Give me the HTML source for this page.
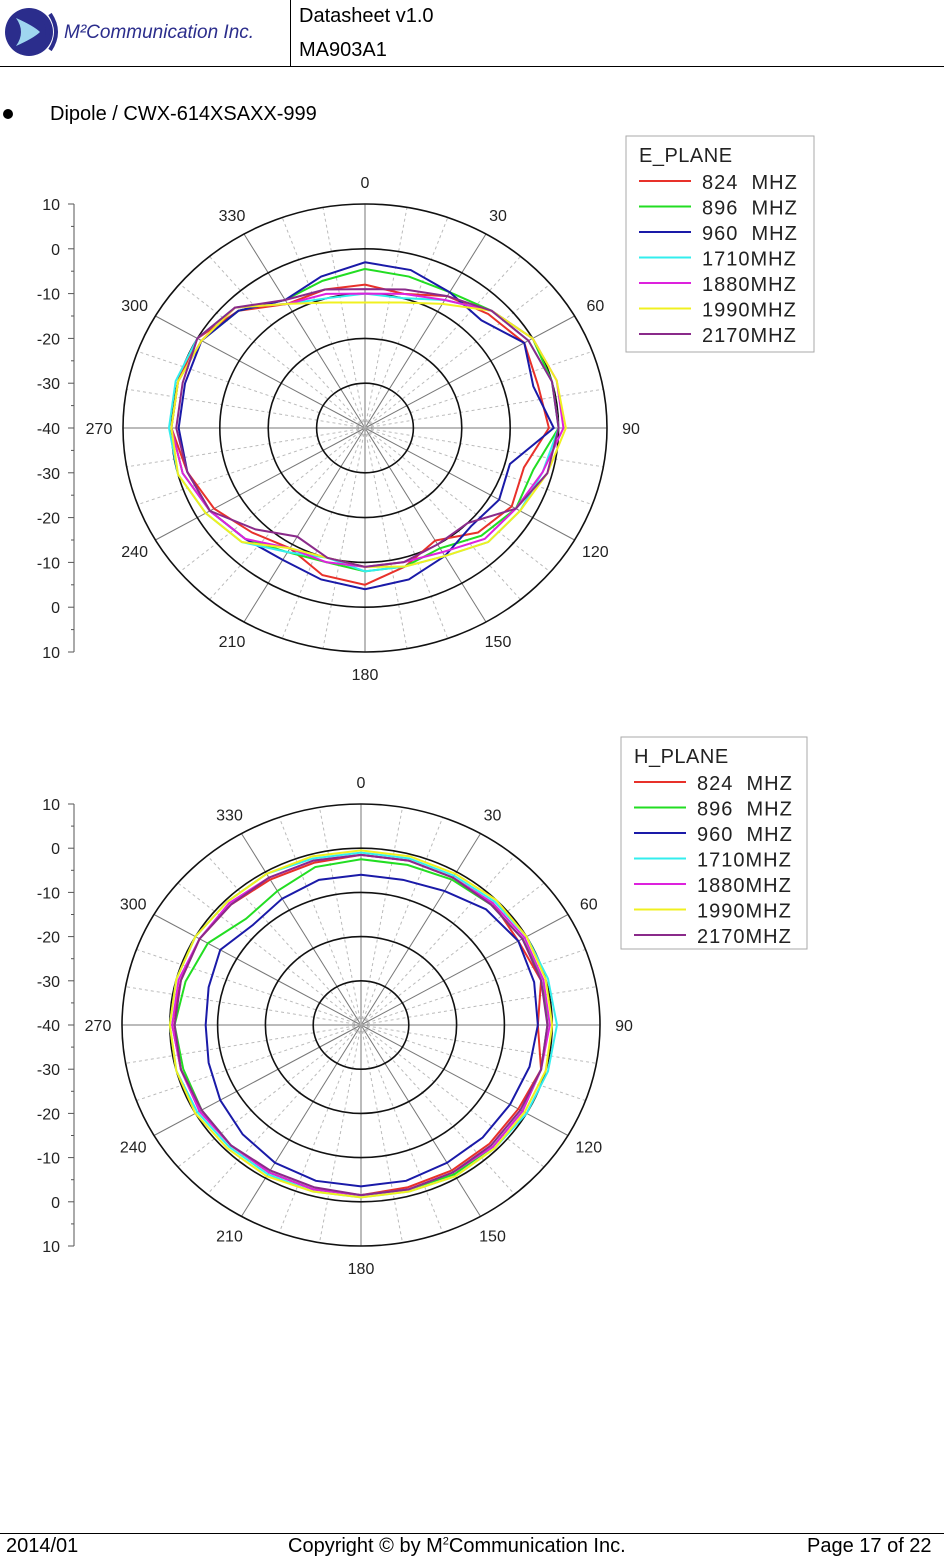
<!DOCTYPE html>
<html><head><meta charset="utf-8">
<style>
body{margin:0;background:#fff;width:944px;height:1558px;position:relative;overflow:hidden;font-family:"Liberation Sans",sans-serif;}
.abs{position:absolute;}
</style></head>
<body>
<div class="abs" style="left:0;top:66px;width:944px;height:1px;background:#000"></div>
<div class="abs" style="left:290px;top:0;width:1px;height:67px;background:#000"></div>
<svg class="abs" style="left:4px;top:4px" width="285" height="58">
 <circle cx="25" cy="28" r="24" fill="#2b2d8c"/>
 <path d="M12 14 Q30 22 36 28 Q30 34 12 42 Q22 28 12 14Z" fill="#9fd6ef"/>
 <path d="M40 16 Q48 28 40 40" stroke="#2b2d8c" stroke-width="4" fill="none"/>
 <path d="M46 10 Q58 28 46 46" stroke="#2b2d8c" stroke-width="4" fill="none"/>
 <text x="60" y="34" font-family="Liberation Sans" font-style="italic" font-size="19" fill="#2b2d8c">M²Communication Inc.</text>
</svg>
<div class="abs" style="left:299px;top:5px;font-size:20px">Datasheet v1.0</div>
<div class="abs" style="left:299px;top:39px;font-size:20px">MA903A1</div>
<div class="abs" style="left:3px;top:109px;width:10px;height:10px;border-radius:50%;background:#000"></div>
<div class="abs" style="left:50px;top:103px;font-size:20px">Dipole / CWX-614XSAXX-999</div>
<svg id="chart" class="abs" style="left:0;top:0" width="944" height="1520"></svg>
<div class="abs" style="left:0;top:1533px;width:944px;height:1px;background:#000"></div>
<div class="abs" style="left:6px;top:1535px;font-size:20px">2014/01</div>
<div class="abs" style="left:288px;top:1535px;font-size:20px">Copyright © by M<sup style="font-size:11px">2</sup>Communication Inc.</div>
<div class="abs" style="left:807px;top:1535px;font-size:20px">Page 17 of 22</div>
<script>
const angles=[0,15,30,45,60,75,90,105,120,135,150,165,180,195,210,225,240,255,270,285,300,315,330,345];
const seriesNames=["824  MHZ","896  MHZ","960  MHZ","1710MHZ","1880MHZ","1990MHZ","2170MHZ"];
const colors=["#e8312a","#22dd22","#1a1aa8","#33eeee","#dd22dd","#f0f020","#8a2a8a"];
const eRed=[-8,-9,-6,-4,-2,-3,-2,-6,-5,-7,-11,-8,-5,-6,-9,-7,-4,-2,0,0,0,-3,-8,-8];
const eGreen=[-4.5,-5,-5,-3,0,0,0,-4,-4,-6,-9,-8,-8,-9,-8,-5,-3,-1,0,0,-1,-3,-7,-6];
const eBlue=[-3,-3.5,-5,-6,-2,-4,-1,-9,-8,-9,-7,-5,-4,-5,-6,-5,-3,-2,-1.5,-1.5,-1,-3,-7,-5];
const eCyan=[-10,-10,-7,-3,-1,0,0,-2,-3,-4,-7,-8,-8,-10,-8,-4,-2,0,0.5,0.5,0,-2,-8,-10];
const eMagenta=[-10,-9,-7,-3,0,1,1,-2,-4,-5,-8,-9,-9,-9,-9,-5,-3,-1,0,0,-1,-2,-8,-9];
const eYellow=[-12,-11,-8,-3,0,1,1.5,-1,-3,-4,-7,-8,-9,-10,-9,-4,-2,0,0,0,-1,-2,-8,-11];
const ePurple=[-9,-8,-6,-3,-1,0,0,-1,-4,-10,-10,-9,-9,-10,-12,-8,-3,-2,-1,-1,0,-2,-7,-8];
const hRed=[-1.5,-1.5,-1.5,-1,-2,-1,-3,-1,-2,-2,-2,-2,-1.5,-1.5,-1.5,-1.5,-1,-1,-0.5,-1,-1,-1.5,-2,-2];
const hGreen=[-2.5,-2.5,-2,-1.5,-1,-0.5,-1,-1,-1,-1,-1,-1.5,-1.5,-1.5,-1.5,-1.5,-1.5,-1.5,-1,-2,-3,-6,-5,-3];
const hBlue=[-6,-6,-5,-3,-2,-2.5,-3,-3.5,-4,-4,-4,-3.5,-3.5,-3.5,-4,-5,-6,-7,-7.5,-7,-6,-8,-7,-6];
const hCyan=[-1,-1,-1,-0.5,0,0.5,1,0.5,0,-0.5,-0.5,-1,-1,-1,-1,-1,-0.5,0,0,0,0,-0.5,-0.5,-1];
const hMagenta=[-1.5,-1.5,-1.5,-1,-0.5,-0.5,-0.5,-1,-1,-1,-1.5,-1.5,-1.5,-1.5,-1.5,-1.5,-1,-1,-0.5,-0.5,-1,-1,-1.5,-1.5];
const hYellow=[-0.5,-0.5,-0.5,0,0,0,0,0,-0.5,-0.5,-0.5,-1,-1,-1,-0.5,-0.5,0,0,0,0,0,-0.5,-0.5,-0.5];
const hPurple=[-1.5,-1.5,-1.5,-1.5,-1,-1,-1,-1,-1.5,-1.5,-1.5,-1.5,-1.5,-2,-2,-1.5,-1.5,-1,-1,-1,-1,-1.5,-1.5,-1.5];
const scaleLabels=["10","0","-10","-20","-30","-40","-30","-20","-10","0","10"];
const angleLabels=[0,30,60,90,120,150,180,210,240,270,300,330];
const NS="http://www.w3.org/2000/svg";
const svg=document.getElementById('chart');
function mk(tag,attrs,parent){const e=document.createElementNS(NS,tag);for(const k in attrs)e.setAttribute(k,attrs[k]);(parent||svg).appendChild(e);return e;}
function drawPolar(cx,cy,ry,rx,series,title,lx,ly,lw,lh,name){
 const g=mk('g',{});
 
 
 const rScale=d=>(d+40)/50;
 const pt=(a,d)=>{const t=a*Math.PI/180,r=rScale(d);return [cx+rx*r*Math.sin(t),cy-ry*r*Math.cos(t)];};
 for(let a=0;a<360;a+=10){const p=pt(a,10);const sp=mk('line',{x1:cx,y1:cy,x2:p[0],y2:p[1],stroke:a%30==0?'#777':'#bbb','stroke-width':1,'stroke-dasharray':a%30==0?'':'3,3'},g);
  
  }
 [-30,-20,-10,0,10].forEach(d=>{const c=mk('ellipse',{cx:cx,cy:cy,rx:rx*rScale(d),ry:ry*rScale(d),fill:'none',stroke:'#111','stroke-width':1.6},g);
  
  });
 angleLabels.forEach(a=>{const t=a*Math.PI/180;const x=cx+(rx+24)*Math.sin(t),y=cy-(ry+22)*Math.cos(t)+6;
  const tx=mk('text',{x:x,y:y,'text-anchor':'middle','font-size':16,fill:'#222'},g);tx.textContent=a;
  
  });
 const ax=74;const top=cy-ry,bot=cy+ry;
 const al=mk('line',{x1:ax,y1:top,x2:ax,y2:bot,stroke:'#555'},g);
 
 
 for(let i=0;i<=20;i++){const y=top+i*(bot-top)/20;mk('line',{x1:ax,y1:y,x2:ax-(i%2?3:6),y2:y,stroke:'#555'},g);}
 scaleLabels.forEach((s,i)=>{const y=top+i*(bot-top)/10+6;const tx=mk('text',{x:60,y:y,'text-anchor':'end','font-size':16,fill:'#222'},g);tx.textContent=s;
  
  });
 series.forEach((vals,i)=>{const pts=angles.map((a,j)=>pt(a,vals[j]).join(',')).join(' ');
  const pl=mk('polygon',{points:pts,fill:'none',stroke:colors[i],'stroke-width':2},g);
  
  });
 const lg=mk('g',{},g);
 
 
 mk('rect',{x:lx,y:ly,width:lw,height:lh,fill:'#fff',stroke:'#aaa'},lg);
 const tt=mk('text',{x:lx+13,y:ly+26,'font-size':20,fill:'#222','letter-spacing':0.5},lg);tt.textContent=title;
 seriesNames.forEach((n,i)=>{const y=ly+45+i*25.5;
  mk('line',{x1:lx+13,y1:y,x2:lx+65,y2:y,stroke:colors[i],'stroke-width':2},lg);
  const t=mk('text',{x:lx+76,y:y+8,'font-size':20,fill:'#222','letter-spacing':1},lg);t.textContent=n.replace(/ /g,'\u00a0');
  
  });
}
drawPolar(365,428,224,242,[eRed,eGreen,eBlue,eCyan,eMagenta,eYellow,ePurple],"E_PLANE",626,136,188,216,"e-plane-chart");
drawPolar(361,1025,221,239,[hRed,hGreen,hBlue,hCyan,hMagenta,hYellow,hPurple],"H_PLANE",621,737,186,212,"h-plane-chart");
</script>
</body></html>
